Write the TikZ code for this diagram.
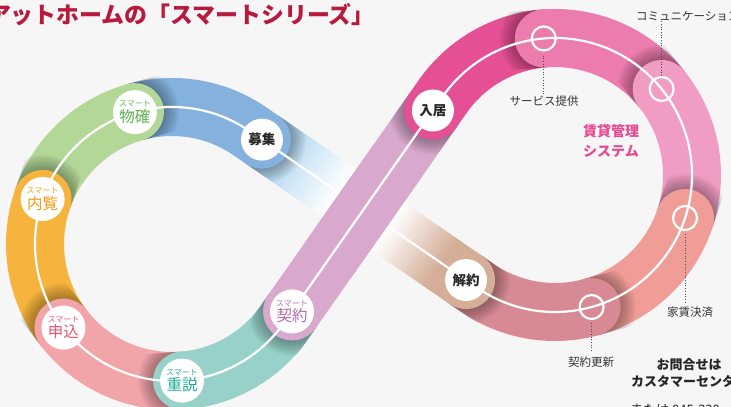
\documentclass[tikz,border=0pt]{standalone}
\usepackage{fontspec}
\setmainfont{Noto Sans CJK JP}
\usetikzlibrary{calc}
\definecolor{bg}{HTML}{F6F6F6}
\definecolor{titlered}{HTML}{B8193C}
\definecolor{bluec}{HTML}{84B1DE}
\definecolor{greenc}{HTML}{B3D797}
\definecolor{orangec}{HTML}{F6B33E}
\definecolor{pinkc}{HTML}{F2A5A9}
\definecolor{tealc}{HTML}{97D1C9}
\definecolor{purplec}{HTML}{D9A9CD}
\definecolor{magc}{HTML}{E55095}
\definecolor{pinkb}{HTML}{EC7BAE}
\definecolor{lpinkc}{HTML}{F19CC4}
\definecolor{salmonc}{HTML}{F19D97}
\definecolor{rosec}{HTML}{D88A94}
\definecolor{tanc}{HTML}{D5AE98}
\definecolor{gradblue}{HTML}{9CCDEE}
\definecolor{sysc}{HTML}{E84A92}
\definecolor{tgreen}{HTML}{5DB04C}
\definecolor{torange}{HTML}{F29A10}
\definecolor{tpink}{HTML}{E8576E}
\definecolor{tteal}{HTML}{22A99B}
\definecolor{tpurple}{HTML}{B868A9}
\newcommand\capshadow[2]{%
  \begin{scope}[shift={(#1)}, rotate=#2]
    \clip (0,-29) rectangle (46,29);
    \foreach \rr in {30,32,...,44}{\fill[black, opacity=0.045] (0,0) circle[radius=\rr];}
  \end{scope}}
\newcommand\smartlbl[1]{{\fontsize{8}{9}\selectfont スマート}\\[1pt]#1}
\tikzset{
  band/.style={line width=58pt, line cap=round},
  wline/.style={white, line width=2.2pt},
  bignode/.style={circle, fill=white, minimum size=42pt, inner sep=0pt, font=\bfseries\fontsize{13.5}{14}\selectfont, text=black!85},
  smartnode/.style={circle, fill=white, minimum size=44pt, inner sep=0pt, align=center, font=\fontsize{15.5}{13}\selectfont},
  ringnode/.style={circle, draw=white, line width=2.2pt, minimum size=24pt, inner sep=0pt},
  lbl/.style={font=\fontsize{11.5}{12}\selectfont, text=black!80, inner sep=0pt},
  dots/.style={dotted, line width=0.7pt, black!70},
}
\begin{document}
\begin{tikzpicture}[x=1pt, y=1pt]
\fill[bg] (0,0) rectangle (731,407);
\useasboundingbox (0,0) rectangle (731,407);
\clip (0,0) rectangle (731,407);
% geometry
\coordinate (C1) at (172,163);
\coordinate (C2) at (555,232);
\path (C1) ++(55.5:137) coordinate (T1d);
\path (C1) ++(-35.1:137) coordinate (T1a);
\path (C2) ++(144.9:137) coordinate (T2a);
\path (C2) ++(-124.5:137) coordinate (T2d);
\coordinate (boshu) at ($(T1d)!0.0544!(T2d)$);
\coordinate (kaiyaku) at ($(T1d)!0.95!(T2d)$);
\coordinate (keiyaku) at ($(T1a)!0.05!(T2a)$);
\coordinate (nyuukyo) at ($(T1a)!0.937!(T2a)$);
\path (C1) ++(105.7:137) coordinate (bukkaku);
\path (C1) ++(160.8:137) coordinate (nairan);
\path (C1) ++(217.6:137) coordinate (moushikomi);
\path (C1) ++(274.2:137) coordinate (juusetsu);
\path (C2) ++(94.7:137) coordinate (service);
\path (C2) ++(38.9:137) coordinate (comm);
\path (C2) ++(-18.3:137) coordinate (yachin);
\path (C2) ++(-74.5:137) coordinate (koushin);
% gradient band
\foreach \i in {0,...,59}{
  \pgfmathsetmacro\ta{\i/60}
  \pgfmathsetmacro\tb{(\i+1.4)/60}
  \pgfmathsetmacro\tm{(\i+0.5)/60}
  \pgfmathsetmacro\pw{\tm<0.38 ? \tm/0.38*100 : (\tm<0.62 ? 100 : (\tm<0.88 ? (0.88-\tm)/0.26*100 : 0))}
  \pgfmathtruncatemacro\side{\tm<0.5 ? 1 : 0}
  \ifnum\side=1 \colorlet{gc}{white!\pw!gradblue}\else\colorlet{gc}{white!\pw!tanc}\fi
  \draw[line width=58pt, gc] ($(boshu)!\ta!(kaiyaku)$) -- ($(boshu)!\tb!(kaiyaku)$);
}
% segments
\capshadow{boshu}{-34.54}
\draw[band, bluec] (boshu) -- (T1d) arc[start angle=55.5, end angle=105.7, radius=137];
\capshadow{bukkaku}{15.7}
\draw[band, greenc] (bukkaku) arc[start angle=105.7, end angle=160.8, radius=137];
\capshadow{nairan}{70.8}
\draw[band, orangec] (nairan) arc[start angle=160.8, end angle=217.6, radius=137];
\capshadow{moushikomi}{127.6}
\draw[band, pinkc] (moushikomi) arc[start angle=217.6, end angle=274.2, radius=137];
\capshadow{juusetsu}{184.2}
\draw[band, tealc] (juusetsu) arc[start angle=274.2, end angle=324.9, radius=137] -- (keiyaku);
\capshadow{keiyaku}{234.9}
\draw[band, purplec] (keiyaku) -- (nyuukyo);
\capshadow{nyuukyo}{234.9}
\draw[band, magc] (nyuukyo) -- (T2a) arc[start angle=144.9, end angle=94.7, radius=137];
\capshadow{service}{184.7}
\draw[band, pinkb] (service) arc[start angle=94.7, end angle=38.9, radius=137];
\capshadow{comm}{128.9}
\draw[band, lpinkc] (comm) arc[start angle=38.9, end angle=-18.3, radius=137];
\capshadow{yachin}{71.7}
\draw[band, salmonc] (yachin) arc[start angle=-18.3, end angle=-74.5, radius=137];
\capshadow{koushin}{15.5}
\draw[band, rosec] (koushin) arc[start angle=-74.5, end angle=-124.5, radius=137] -- (kaiyaku);
\capshadow{kaiyaku}{-34.54}
\fill[tanc] (kaiyaku) circle[radius=29];
% white centre line
\draw[wline] (boshu) -- (T1d) arc[start angle=55.5, end angle=324.9, radius=137] -- (T2a)
  arc[start angle=144.9, end angle=-124.5, radius=137] -- (kaiyaku) -- cycle;
% purple crossing on top
\draw[band, line cap=butt, purplec] ($(keiyaku)!0.25!(nyuukyo)$) -- ($(keiyaku)!0.75!(nyuukyo)$);
\draw[wline] ($(keiyaku)!0.24!(nyuukyo)$) -- ($(keiyaku)!0.76!(nyuukyo)$);
% main nodes
\node[bignode] (nBoshu) at (boshu) {募集};
\node[bignode] (nNyuukyo) at (nyuukyo) {入居};
\node[bignode] (nKaiyaku) at (kaiyaku) {解約};
\node[smartnode, text=tgreen] (nBukkaku) at (bukkaku) {\smartlbl{物確}};
\node[smartnode, text=torange] (nNairan) at (nairan) {\smartlbl{内覧}};
\node[smartnode, text=tpink] (nMoushikomi) at (moushikomi) {\smartlbl{申込}};
\node[smartnode, text=tteal] (nJuusetsu) at (juusetsu) {\smartlbl{重説}};
\node[smartnode, text=tpurple] (nKeiyaku) at (keiyaku) {\smartlbl{契約}};
% rings
\node[ringnode] (rService) at (service) {};
\node[ringnode] (rComm) at (comm) {};
\node[ringnode] (rYachin) at (yachin) {};
\node[ringnode] (rKoushin) at (koushin) {};
% labels
\node[lbl] (lService) at (544,306) {サービス提供};
\node[lbl, anchor=west] (lComm) at (636,391) {コミュニケーション};
\node[lbl] (lYachin) at (690,95) {家賃決済};
\node[lbl] (lKoushin) at (591,45) {契約更新};
\draw[dots] ([yshift=-4]rService.south) -- (rService.south |- lService.north);
\draw[dots] (rComm.north) -- (rComm.north |- lComm.south);
\draw[dots] ([yshift=-3]rYachin.south) -- ([yshift=4]rYachin.south |- lYachin.north);
\draw[dots] ([yshift=-3]rKoushin.south) -- ([yshift=4]rKoushin.south |- lKoushin.north);
% texts
\node[align=center, text=sysc, font=\bfseries\fontsize{14}{20}\selectfont] (sys) at (611,266) {賃貸管理\\システム};
\node[anchor=east, inner sep=0pt, text=titlered, font=\bfseries\fontsize{22.9}{24}\selectfont] (title) at (375,392) {アットホームの「スマートシリーズ」};
\node[font=\bfseries\fontsize{13}{14}\selectfont, text=black!85] (ask) at (689,42) {お問合せは};
\node[anchor=west, inner sep=0pt, font=\bfseries\fontsize{13}{14}\selectfont, text=black!85] (center) at (631,26) {カスタマーセンター};
\node[anchor=west, inner sep=0pt, font=\fontsize{13}{14}\selectfont, text=black!85] (tel) at (630,-3) {または 045-330};
\end{tikzpicture}
\end{document}
